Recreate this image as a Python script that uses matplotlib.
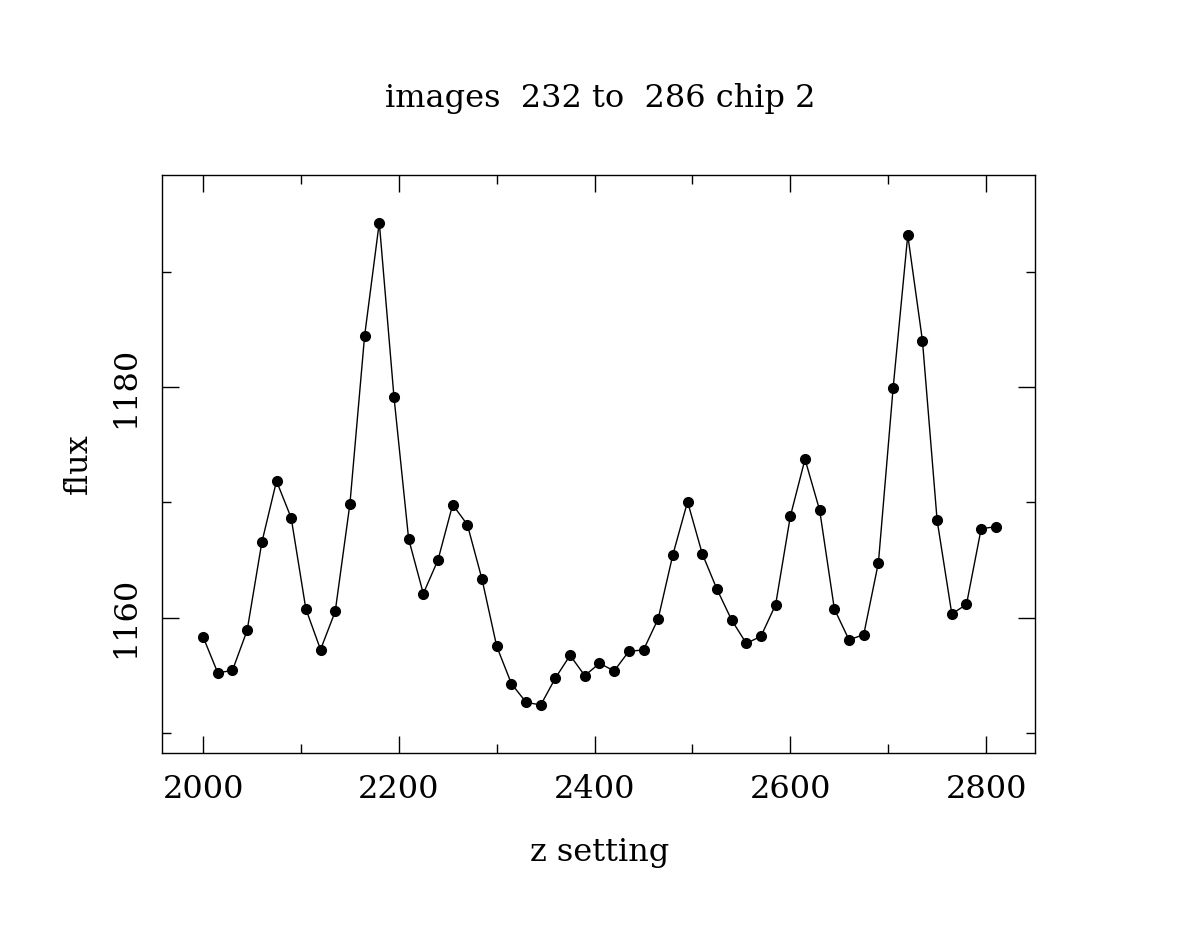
import matplotlib
matplotlib.use("Agg")
import matplotlib.pyplot as plt
from matplotlib.ticker import MultipleLocator

# focus scan, one point per image
z_setting = list(range(2000, 2811, 15))
flux = [
    1158.34, 1155.22, 1155.44, 1158.91, 1166.53, 1171.85, 1168.65, 1160.76,
    1157.24, 1160.55, 1169.86, 1184.42, 1194.26, 1179.16, 1166.83, 1162.09,
    1165.01, 1169.80, 1168.07, 1163.33, 1157.52, 1154.29, 1152.67, 1152.44,
    1154.78, 1156.74, 1154.98, 1156.05, 1155.39, 1157.09, 1157.21, 1159.92,
    1165.47, 1170.06, 1165.55, 1162.48, 1159.81, 1157.78, 1158.39, 1161.14,
    1168.79, 1173.74, 1169.31, 1160.76, 1158.08, 1158.54, 1164.77, 1179.88,
    1193.17, 1184.01, 1168.44, 1160.33, 1161.16, 1167.72, 1167.89,
]
title = "images  232 to  286 chip 2"

plt.rcParams['font.family'] = ['DejaVu Serif']
fs = 23

fig = plt.figure(figsize=(12, 9.27), dpi=100)
ax = fig.add_axes([0.135, 0.188, 0.7275, 0.6235])

ax.plot(z_setting, flux, color='black', lw=1.0, marker='o', ms=7)

ax.set_xlim(1958, 2850)
ax.set_ylim(1148.3, 1198.4)

ax.xaxis.set_major_locator(MultipleLocator(200))
ax.xaxis.set_minor_locator(MultipleLocator(100))
ax.yaxis.set_major_locator(MultipleLocator(20))
ax.yaxis.set_minor_locator(MultipleLocator(10))
ax.tick_params(which='both', direction='in', top=True, right=True, width=1.0,
               labelsize=fs)
ax.tick_params(which='major', length=12, pad=15)
ax.tick_params(which='minor', length=6.5)
for lbl in ax.get_yticklabels():
    lbl.set_rotation(90)
    lbl.set_va('center')
for s in ax.spines.values():
    s.set_linewidth(1.0)

fig.text(0.5, 0.894, title, ha='center', va='center', fontsize=fs)
fig.text(0.5, 0.08, "z setting", ha='center', va='center', fontsize=fs)
fig.text(0.065, 0.5, "flux", ha='center', va='center', rotation=90, fontsize=fs)

fig.savefig("out.png", dpi=100)
